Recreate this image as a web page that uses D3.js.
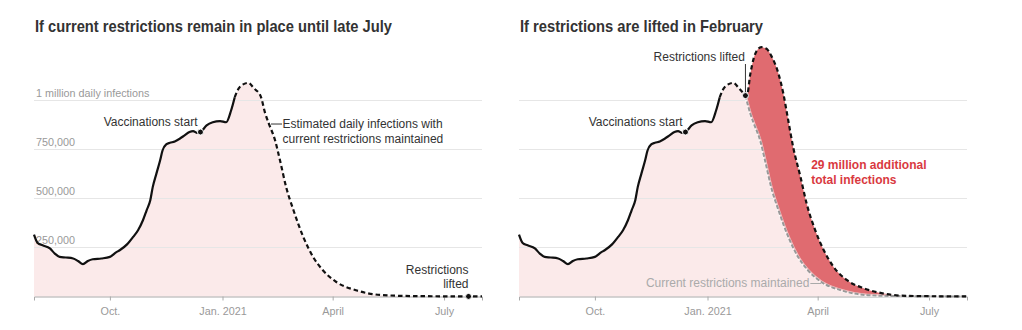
<!DOCTYPE html>
<html>
<head>
<meta charset="utf-8">
<script src="https://cdn.jsdelivr.net/npm/d3@7"></script>
<style>
  body { margin: 0; background: #fff; }
  svg { display: block; }
  text { font-family: "Liberation Sans", Arial, sans-serif; }
</style>
</head>
<body>
<svg id="chart" width="1022" height="330"></svg>
<script>
// Daily infections in thousands
const observedDates = ["2020-07-31","2020-08-03","2020-08-07","2020-08-13","2020-08-17","2020-08-21","2020-08-26",
  "2020-09-01","2020-09-05","2020-09-09","2020-09-13","2020-09-17","2020-09-24","2020-10-01","2020-10-06","2020-10-09",
  "2020-10-15","2020-10-20","2020-10-24","2020-10-28","2020-10-31","2020-11-03","2020-11-05","2020-11-08","2020-11-11",
  "2020-11-13","2020-11-16","2020-11-19","2020-11-23","2020-11-27","2020-12-01","2020-12-05","2020-12-08","2020-12-11",
  "2020-12-14","2020-12-19","2020-12-24","2020-12-30","2021-01-04","2021-01-08","2021-01-11"];
const observedValues = [316,273,261,245,219,202,199,194,181,165,181,190,194,202,225,236,266,304,338,389,440,491,558,627,694,
  745,776,784,791,805,822,839,844,835,839,873,889,895,889,949,1017];

// Projection with current restrictions kept in place
const currentDates = ["2021-01-11","2021-01-15","2021-01-22","2021-01-27","2021-02-01","2021-02-05","2021-02-08","2021-02-13",
  "2021-02-17","2021-02-22","2021-02-28","2021-03-08","2021-03-16","2021-03-24","2021-04-04","2021-04-20","2021-05-12",
  "2021-06-08","2021-07-21","2021-08-01"];
const currentValues = [1017,1068,1090,1060,1025,932,880,796,694,558,440,304,202,134,74,32,7,2,0.5,0.3];

// Projection if restrictions are lifted on Feb. 1
const liftedDates = ["2021-02-01","2021-02-02","2021-02-05","2021-02-08","2021-02-11","2021-02-14","2021-02-18","2021-02-22",
  "2021-02-28","2021-03-04","2021-03-07","2021-03-12","2021-03-18","2021-03-23","2021-03-30","2021-04-06","2021-04-14",
  "2021-04-25","2021-05-09","2021-05-25","2021-06-13","2021-08-01"];
const liftedValues = [1025,1017,1136,1221,1260,1272,1265,1229,1136,1034,932,762,609,474,338,236,151,83,41,15,3,0.3];

const gridValues = [250, 500, 750, 1000];
const gridLabels = ["250,000", "500,000", "750,000", "1 million daily infections"];
const tickDates = ["2020-10-01", "2021-01-01", "2021-04-01", "2021-07-01"];
const tickLabels = ["Oct.", "Jan. 2021", "April", "July"];

const titles = ["If current restrictions remain in place until late July", "If restrictions are lifted in February"];
const vaccinationDate = "2020-12-14";
const liftDateLeft = "2021-07-21";
const liftDateRight = "2021-02-01";

const parse = d3.timeParse("%Y-%m-%d");
const zip = (ds, vs) => ds.map((d, i) => ({ date: parse(d), value: vs[i] }));
const observed = zip(observedDates, observedValues);
const current = zip(currentDates, currentValues);
const lifted = zip(liftedDates, liftedValues);
const full = observed.concat(current.slice(1));

const svg = d3.select("#chart");
const plotW = 448;
const x = d3.scaleTime().domain([parse("2020-07-31"), parse("2021-08-01")]).range([0, plotW]);
const y = d3.scaleLinear().domain([0, 1000]).range([296.5, 100.5]);

const line = d3.line().x(d => x(d.date)).y(d => y(d.value)).curve(d3.curveMonotoneX);
const area = d3.area().x(d => x(d.date)).y0(y(0)).y1(d => y(d.value)).curve(d3.curveMonotoneX);
const aboveArea = d3.area().x(d => x(d.date)).y0(0).y1(d => y(d.value)).curve(d3.curveMonotoneX);

const findPoint = (series, ds) => series.find(p => +p.date === +parse(ds));
const DASH = "4.5,3";

function panel(g, idx) {
  // title
  const t = g.append("text").attr("x", 1).attr("y", 32)
    .attr("font-size", 17).attr("font-weight", "bold").attr("fill", "#333")
    .text(titles[idx]);
  const targetW = idx === 0 ? 357 : 243;
  if (t.node().getComputedTextLength() > targetW) {
    t.attr("textLength", targetW).attr("lengthAdjust", "spacingAndGlyphs");
  }

  // pink fill under the whole curve
  g.append("path").datum(full).attr("d", area).attr("fill", "#fbeaea");

  // gridlines
  g.selectAll(".grid").data(gridValues).join("line")
    .attr("x1", 0).attr("x2", plotW)
    .attr("y1", d => Math.round(y(d)) - 0.5).attr("y2", d => Math.round(y(d)) - 0.5)
    .attr("stroke", "#e6e6e6").attr("stroke-width", 1);

  if (idx === 0) {
    g.selectAll(".ylab").data(gridValues).join("text")
      .attr("x", 2).attr("y", d => y(d) - 4)
      .attr("font-size", 10.8).attr("fill", "#999")
      .text((d, i) => gridLabels[i]);
  }

  // x axis
  const axis = g.append("g").attr("transform", `translate(0,${y(0)})`)
    .call(d3.axisBottom(x).tickValues(tickDates.map(parse)).tickSize(4)
      .tickFormat((d, i) => tickLabels[i]));
  axis.select(".domain").attr("stroke", "#aaa");
  axis.selectAll(".tick line").attr("stroke", "#aaa");
  axis.selectAll(".tick text").attr("fill", "#999").attr("font-size", 10.8)
    .attr("font-family", "Liberation Sans, Arial, sans-serif").attr("dy", "1.05em");

  if (idx === 1) {
    // extra infections between the two projections
    const clipId = "above-current";
    g.append("clipPath").attr("id", clipId).append("path").datum(full).attr("d", aboveArea);
    g.append("path").datum(lifted).attr("d", area).attr("fill", "#e06b70")
      .attr("clip-path", `url(#${clipId})`);
  }

  // observed line
  g.append("path").datum(observed).attr("d", line)
    .attr("fill", "none").attr("stroke", "#111").attr("stroke-width", 2.2);

  if (idx === 0) {
    g.append("path").datum(current).attr("d", line)
      .attr("fill", "none").attr("stroke", "#111").attr("stroke-width", 2.2).attr("stroke-dasharray", DASH);
  } else {
    const cut = +parse(liftDateRight);
    g.append("path").datum(current.filter(p => +p.date >= cut)).attr("d", line)
      .attr("fill", "none").attr("stroke", "#fff").attr("stroke-width", 3).attr("opacity", 0.6);
    g.append("path").datum(current.filter(p => +p.date >= cut)).attr("d", line)
      .attr("fill", "none").attr("stroke", "#999").attr("stroke-width", 2).attr("stroke-dasharray", "4,2");
    g.append("path").datum(current.filter(p => +p.date <= cut)).attr("d", line)
      .attr("fill", "none").attr("stroke", "#111").attr("stroke-width", 2.2).attr("stroke-dasharray", DASH);
    g.append("path").datum(lifted).attr("d", line)
      .attr("fill", "none").attr("stroke", "#111").attr("stroke-width", 2.2).attr("stroke-dasharray", DASH);
  }

  // vaccination marker
  const vp = findPoint(observed, vaccinationDate);
  g.append("circle").attr("cx", x(vp.date)).attr("cy", y(vp.value)).attr("r", 3)
    .attr("fill", "#111").attr("stroke", "#fff").attr("stroke-width", 1);
  g.append("text").attr("x", x(vp.date) - 3).attr("y", y(vp.value) - 6.5)
    .attr("text-anchor", "end").attr("font-size", 12).attr("fill", "#333")
    .text("Vaccinations start");

  if (idx === 0) {
    const lp = findPoint(current, liftDateLeft);
    g.append("circle").attr("cx", x(lp.date)).attr("cy", y(lp.value)).attr("r", 3)
      .attr("fill", "#111").attr("stroke", "#fff").attr("stroke-width", 1);
    const lab = g.append("text").attr("text-anchor", "end").attr("font-size", 12).attr("fill", "#333");
    lab.append("tspan").attr("x", x(lp.date)).attr("y", y(lp.value) - 22).text("Restrictions");
    lab.append("tspan").attr("x", x(lp.date)).attr("y", y(lp.value) - 8.5).text("lifted");

    const ep = findPoint(current, "2021-02-08");
    const ex = x(ep.date), ey = y(ep.value);
    g.append("line").attr("x1", ex + 2).attr("x2", ex + 13).attr("y1", ey).attr("y2", ey)
      .attr("stroke", "#333").attr("stroke-width", 1);
    const est = g.append("text").attr("font-size", 12).attr("fill", "#333");
    est.append("tspan").attr("x", ex + 13.5).attr("y", ey + 4).text("Estimated daily infections with");
    est.append("tspan").attr("x", ex + 13.5).attr("y", ey + 18.5).text("current restrictions maintained");
  } else {
    const lp = findPoint(current, liftDateRight);
    const lx = x(lp.date), ly = y(lp.value);
    g.append("line").attr("x1", lx).attr("x2", lx).attr("y1", 64).attr("y2", ly - 3)
      .attr("stroke", "#333").attr("stroke-width", 1);
    g.append("circle").attr("cx", lx).attr("cy", ly).attr("r", 3)
      .attr("fill", "#111").attr("stroke", "#fff").attr("stroke-width", 1);
    g.append("text").attr("x", lx - 0.5).attr("y", 61).attr("text-anchor", "end")
      .attr("font-size", 12).attr("fill", "#333").text("Restrictions lifted");

    // label for the lower projection
    const cp = findPoint(current, "2021-04-04");
    const cx = x(cp.date);
    g.append("line").attr("x1", cx - 11).attr("x2", cx).attr("y1", 283.5).attr("y2", 283.5)
      .attr("stroke", "#aaa").attr("stroke-width", 1);
    g.append("text").attr("x", cx - 12).attr("y", 287).attr("text-anchor", "end")
      .attr("font-size", 12).attr("fill", "#aaa").text("Current restrictions maintained");

    const rp = findPoint(lifted, "2021-03-12");
    const red = g.append("text").attr("font-size", 12).attr("font-weight", "bold").attr("fill", "#d9393f");
    red.append("tspan").attr("x", x(rp.date) + 18).attr("y", 169).text("29 million additional");
    red.append("tspan").attr("x", x(rp.date) + 18).attr("y", 183.5).text("total infections");
  }
}

panel(svg.append("g").attr("transform", "translate(34,0)"), 0);
panel(svg.append("g").attr("transform", "translate(519,0)"), 1);
</script>
</body>
</html>
